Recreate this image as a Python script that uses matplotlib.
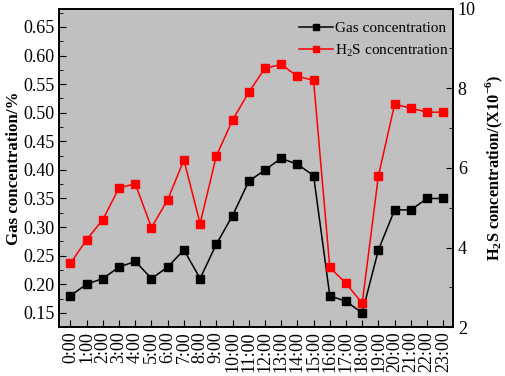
import matplotlib
matplotlib.use("Agg")
import matplotlib.pyplot as plt
from matplotlib.ticker import MultipleLocator

plt.rcParams["font.family"] = ["Liberation Serif", "DejaVu Serif"]
plt.rcParams["mathtext.fontset"] = "custom"
plt.rcParams["mathtext.rm"] = "Liberation Serif"
plt.rcParams["mathtext.bf"] = "Liberation Serif:bold"

hours = [f"{h}:00" for h in range(24)]
gasConc = [0.18, 0.20, 0.21, 0.23, 0.24, 0.21, 0.23, 0.26, 0.21, 0.27, 0.32, 0.38,
           0.40, 0.42, 0.41, 0.39, 0.18, 0.17, 0.15, 0.26, 0.33, 0.33, 0.35, 0.35]
h2sConc = [3.6, 4.2, 4.7, 5.5, 5.6, 4.5, 5.2, 6.2, 4.6, 6.3, 7.2, 7.9,
           8.5, 8.6, 8.3, 8.2, 3.5, 3.1, 2.6, 5.8, 7.6, 7.5, 7.4, 7.4]

fig = plt.figure(figsize=(5.05, 3.76), dpi=100)
ax = fig.add_axes([0.117, 0.13, 0.78, 0.847])
ax.set_facecolor("#c0c0c0")
x = list(range(len(hours)))

l1, = ax.plot(x, gasConc, color="black", marker="s", markersize=6, linewidth=1.1,
              label="Gas concentration")
ax.set_ylim(0.125, 0.682)
ax.set_xlim(-0.7, 23.6)
ax.yaxis.set_major_locator(MultipleLocator(0.05))
ax.yaxis.set_minor_locator(MultipleLocator(0.025))
ax.set_xticks(x)
ax.set_xticklabels(hours, rotation=90)
ax.tick_params(axis="both", which="both", direction="in", top=False, labelsize=13)
ax.tick_params(axis="y", which="major", length=5, pad=3)
ax.tick_params(axis="y", which="minor", length=3)
ax.tick_params(axis="x", length=5, pad=3)
ax.set_ylabel("Gas concentration/%", fontsize=12.2, fontweight="bold", labelpad=1)

ax2 = ax.twinx()
l2, = ax2.plot(x, h2sConc, color="#ff0000", marker="s", markersize=6, linewidth=1.1,
               label="H$_2$S concentration")
ax2.set_ylim(2, 10)
ax2.yaxis.set_major_locator(MultipleLocator(2))
ax2.yaxis.set_minor_locator(MultipleLocator(1))
ax2.tick_params(axis="y", which="both", direction="in", labelsize=13)
ax2.tick_params(axis="y", which="major", length=5)
ax2.tick_params(axis="y", which="minor", length=3)
ax2.set_ylabel(r"H$_\mathbf{2}$S concentration/(X10$^{\mathbf{-6}}$)", fontsize=11.8,
               fontweight="bold", labelpad=6)

for a in (ax, ax2):
    for s in a.spines.values():
        s.set_linewidth(1.2)

ax2.legend(handles=[l1, l2], loc="upper right", bbox_to_anchor=(1.02, 0.995),
           frameon=False, fontsize=11, handlelength=2.2, handletextpad=0.15,
           borderaxespad=0.45, labelspacing=0.45, markerscale=0.75, borderpad=0.3)

fig.savefig("out.png", dpi=100)
